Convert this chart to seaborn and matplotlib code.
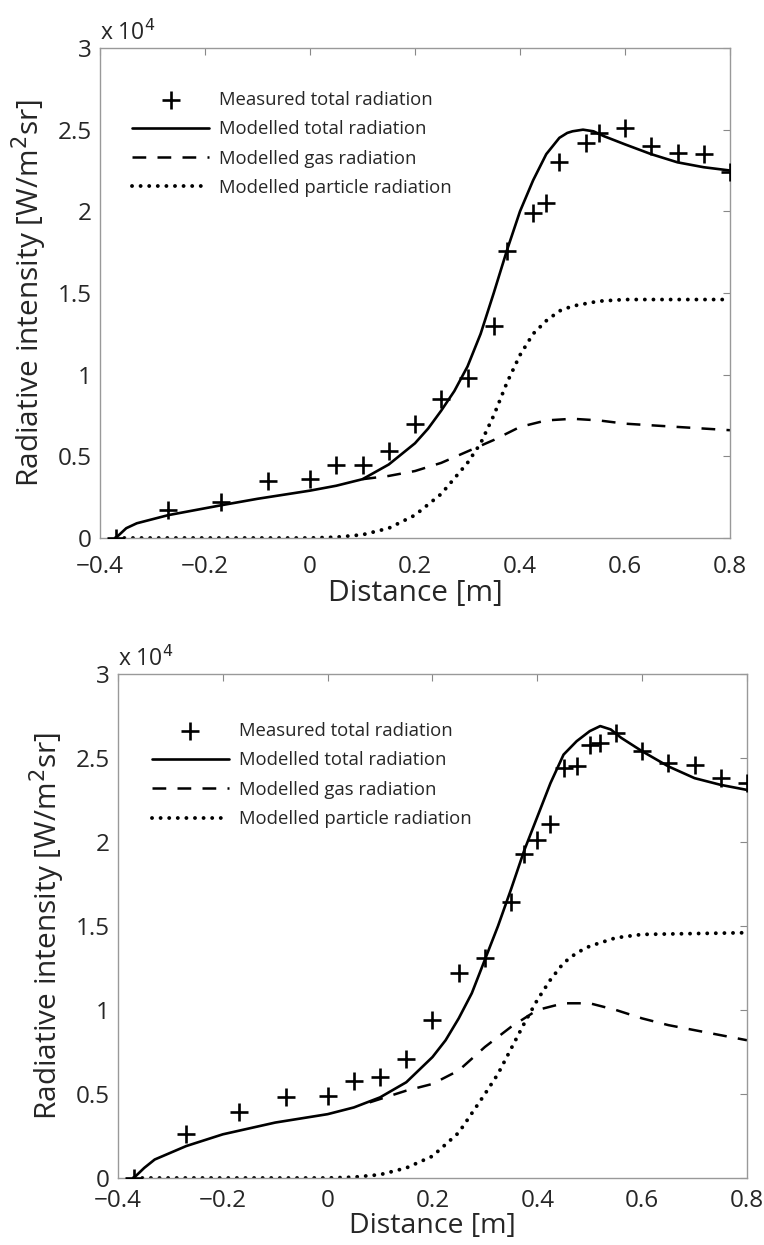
import matplotlib
matplotlib.use("Agg")
import matplotlib.pyplot as plt
import seaborn as sns

# ---- panel 1 data (values in units of 1e4 W/m^2 sr) ----
meas1_x = [-0.37, -0.27, -0.17, -0.08, 0.0, 0.05, 0.10, 0.15, 0.20, 0.25, 0.30, 0.35,
           0.375, 0.425, 0.45, 0.475, 0.525, 0.55, 0.60, 0.65, 0.70, 0.75, 0.80]
meas1_y = [0.00, 0.17, 0.22, 0.35, 0.36, 0.45, 0.45, 0.53, 0.70, 0.85, 0.98, 1.30,
           1.76, 1.99, 2.05, 2.30, 2.42, 2.48, 2.51, 2.40, 2.36, 2.35, 2.24]

tot1_x = [-0.37, -0.36, -0.35, -0.33, -0.30, -0.27, -0.22, -0.17, -0.10, 0.0, 0.05,
          0.10, 0.15, 0.20, 0.225, 0.25, 0.275, 0.30, 0.325, 0.35, 0.375, 0.40, 0.425,
          0.45, 0.475, 0.49, 0.50, 0.52, 0.54, 0.56, 0.60, 0.65, 0.70, 0.75, 0.80]
tot1_y = [0.00, 0.03, 0.06, 0.09, 0.115, 0.14, 0.17, 0.20, 0.24, 0.29, 0.32,
          0.36, 0.45, 0.58, 0.67, 0.78, 0.90, 1.05, 1.25, 1.50, 1.76, 2.00, 2.19,
          2.35, 2.45, 2.48, 2.49, 2.50, 2.49, 2.46, 2.41, 2.35, 2.30, 2.27, 2.25]

gas1_x = [0.10, 0.15, 0.20, 0.25, 0.30, 0.35, 0.40, 0.45, 0.50, 0.55, 0.60, 0.70, 0.80]
gas1_y = [0.36, 0.38, 0.41, 0.46, 0.53, 0.60, 0.68, 0.72, 0.73, 0.72, 0.70, 0.68, 0.66]

par1_x = [-0.37, 0.0, 0.05, 0.10, 0.15, 0.20, 0.25, 0.30, 0.325, 0.35, 0.375, 0.40,
          0.425, 0.45, 0.475, 0.50, 0.55, 0.60, 0.80]
par1_y = [0.00, 0.00, 0.005, 0.02, 0.06, 0.14, 0.27, 0.46, 0.58, 0.75, 0.95, 1.12,
          1.25, 1.33, 1.39, 1.42, 1.45, 1.46, 1.46]

# ---- panel 2 data ----
meas2_x = [-0.37, -0.27, -0.17, -0.08, 0.0, 0.05, 0.10, 0.15, 0.20, 0.25, 0.30, 0.35,
           0.375, 0.40, 0.425, 0.45, 0.475, 0.50, 0.52, 0.55, 0.60, 0.65, 0.70, 0.75, 0.80]
meas2_y = [0.00, 0.26, 0.39, 0.48, 0.49, 0.58, 0.60, 0.71, 0.94, 1.22, 1.31, 1.64,
           1.93, 2.01, 2.11, 2.44, 2.45, 2.58, 2.59, 2.65, 2.54, 2.47, 2.46, 2.38, 2.35]

tot2_x = [-0.37, -0.36, -0.35, -0.33, -0.30, -0.27, -0.20, -0.10, 0.0, 0.05, 0.10,
          0.15, 0.20, 0.225, 0.25, 0.275, 0.30, 0.325, 0.35, 0.375, 0.40, 0.425, 0.45,
          0.475, 0.50, 0.52, 0.54, 0.56, 0.60, 0.65, 0.70, 0.75, 0.80]
tot2_y = [0.00, 0.03, 0.06, 0.11, 0.15, 0.19, 0.26, 0.33, 0.38, 0.42, 0.48,
          0.57, 0.72, 0.82, 0.95, 1.10, 1.30, 1.50, 1.72, 1.95, 2.15, 2.35, 2.52,
          2.60, 2.66, 2.69, 2.67, 2.62, 2.54, 2.45, 2.38, 2.34, 2.31]

gas2_x = [0.08, 0.10, 0.15, 0.20, 0.25, 0.30, 0.35, 0.40, 0.45, 0.50, 0.55, 0.60, 0.65,
          0.70, 0.75, 0.80]
gas2_y = [0.45, 0.47, 0.52, 0.56, 0.64, 0.78, 0.90, 1.00, 1.04, 1.04, 1.00, 0.95, 0.91,
          0.88, 0.85, 0.82]

par2_x = [-0.37, 0.0, 0.05, 0.10, 0.15, 0.20, 0.25, 0.30, 0.325, 0.35, 0.375, 0.40,
          0.425, 0.45, 0.475, 0.50, 0.55, 0.60, 0.80]
par2_y = [0.00, 0.00, 0.005, 0.02, 0.06, 0.13, 0.27, 0.50, 0.62, 0.77, 0.92, 1.06,
          1.18, 1.28, 1.34, 1.38, 1.43, 1.45, 1.46]

x_ticks = [-0.4, -0.2, 0, 0.2, 0.4, 0.6, 0.8]
x_ticklabels = ["\u22120.4", "\u22120.2", "0", "0.2", "0.4", "0.6", "0.8"]
y_ticks = [0, 0.5, 1, 1.5, 2, 2.5, 3]
y_ticklabels = ["0", "0.5", "1", "1.5", "2", "2.5", "3"]

sns.set_style("white")
plt.rcParams["font.family"] = ["Open Sans", "DejaVu Sans"]


def draw(ax, mx, my, tx, ty, gx, gy, px, py, leg_anchor, tick_pad, xpad, xsize):
    sns.scatterplot(x=mx, y=my, ax=ax, marker="+", s=150, color="black",
                    linewidth=1.9, label="Measured total radiation", zorder=5)
    sns.lineplot(x=tx, y=ty, ax=ax, color="black", lw=1.9, sort=False,
                 label="Modelled total radiation")
    sns.lineplot(x=gx, y=gy, ax=ax, color="black", lw=1.8, sort=False,
                 label="Modelled gas radiation")
    ax.lines[-1].set_dashes([5.5, 4.5])
    sns.lineplot(x=px, y=py, ax=ax, color="black", lw=2.8, sort=False,
                 label="Modelled particle radiation")
    ax.lines[-1].set_linestyle((0, (0.01, 2.2)))
    ax.lines[-1].set_dash_capstyle("round")

    ax.set_xlim(-0.4, 0.8)
    ax.set_ylim(0, 3)
    ax.set_xticks(x_ticks)
    ax.set_xticklabels(x_ticklabels)
    ax.set_yticks(y_ticks)
    ax.set_yticklabels(y_ticklabels)
    ax.tick_params(direction="in", length=5, top=True, right=True,
                   labelsize=17.5, color="#888888")
    ax.tick_params(axis="x", pad=tick_pad)
    ax.tick_params(axis="y", pad=6)
    for sp in ax.spines.values():
        sp.set_color("#999999")
        sp.set_linewidth(1.0)
    ax.set_xlabel("Distance [m]", fontsize=xsize, labelpad=xpad)
    ax.set_ylabel("Radiative intensity [W/m$^2$sr]", fontsize=21.5, labelpad=6)
    ax.text(0.0, 1.004, "x 10$^4$", transform=ax.transAxes, fontsize=16.5,
            ha="left", va="bottom")

    ax.legend(loc="upper left", bbox_to_anchor=leg_anchor, frameon=False,
              fontsize=13.3, handlelength=4.2, handletextpad=0.55,
              labelspacing=0.62)


fig = plt.figure(figsize=(7.64, 12.45), dpi=100)
# top panel: x 100..730 px, y 48..538 px
ax1 = fig.add_axes([100 / 764, (1245 - 538) / 1245, 630 / 764, 490 / 1245])
# bottom panel: x 118..747 px, y 674..1178 px
ax2 = fig.add_axes([118 / 764, (1245 - 1178) / 1245, 629 / 764, 504 / 1245])

draw(ax1, meas1_x, meas1_y, tot1_x, tot1_y, gas1_x, gas1_y, par1_x, par1_y,
     (0.024, 0.947), 12, 0, 21.5)
draw(ax2, meas2_x, meas2_y, tot2_x, tot2_y, gas2_x, gas2_y, par2_x, par2_y,
     (0.027, 0.938), 8, -1, 20.5)

fig.savefig("out.png", dpi=100, facecolor="white")
